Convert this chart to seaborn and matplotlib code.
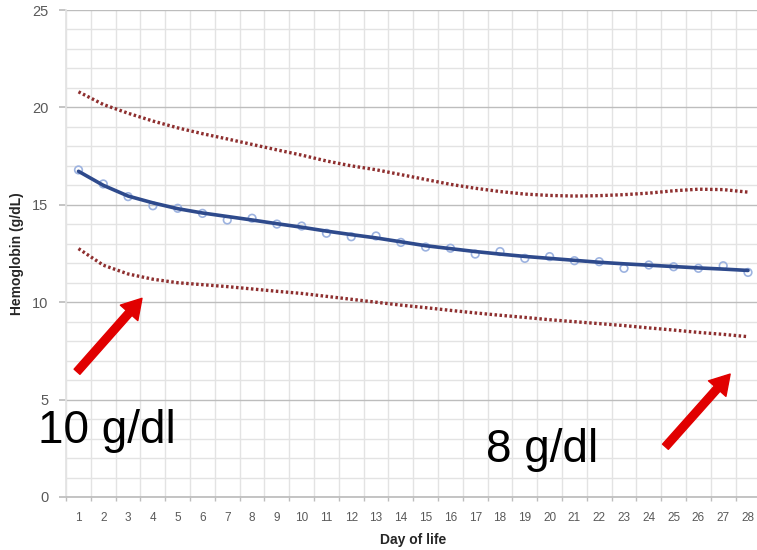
import numpy as np
import pandas as pd
import seaborn as sns
import matplotlib.pyplot as plt
from matplotlib.ticker import MultipleLocator, FixedLocator

# 데이터
days = list(range(1, 29))
hb_obs = [16.79, 16.07, 15.42, 14.95, 14.82, 14.56, 14.22, 14.31, 14.01, 13.91,
          13.54, 13.36, 13.40, 13.07, 12.83, 12.77, 12.47, 12.60, 12.25, 12.34,
          12.13, 12.08, 11.74, 11.91, 11.82, 11.74, 11.87, 11.53]
hb_trend = [16.72, 16.00, 15.45, 15.10, 14.80, 14.58, 14.40, 14.22, 14.03, 13.85,
            13.65, 13.47, 13.30, 13.10, 12.90, 12.75, 12.60, 12.47, 12.35, 12.25,
            12.15, 12.05, 11.97, 11.90, 11.83, 11.76, 11.70, 11.63]
hb_upper = [20.80, 20.15, 19.70, 19.30, 18.95, 18.65, 18.38, 18.10, 17.82, 17.55,
            17.25, 17.00, 16.80, 16.55, 16.30, 16.05, 15.85, 15.68, 15.55, 15.48,
            15.45, 15.47, 15.52, 15.60, 15.72, 15.80, 15.78, 15.65]
hb_lower = [12.75, 11.90, 11.45, 11.18, 11.00, 10.90, 10.80, 10.68, 10.56, 10.45,
            10.30, 10.15, 10.00, 9.85, 9.72, 9.58, 9.45, 9.33, 9.22, 9.10,
            9.00, 8.90, 8.80, 8.68, 8.57, 8.45, 8.35, 8.23]

df = pd.DataFrame({'day': days, 'obs': hb_obs, 'trend': hb_trend,
                   'upper': hb_upper, 'lower': hb_lower})

sns.set_theme(style="white")
plt.rcParams['font.family'] = ['Liberation Sans', 'DejaVu Sans']

fig = plt.figure(figsize=(7.57, 5.50), dpi=100)
ax = fig.add_axes([66.1 / 757, 1 - 497 / 550, (760.4 - 66.1) / 757, (497 - 10) / 550])

red_dot = '#8E2F2F'
for col in ['upper', 'lower']:
    sns.lineplot(data=df, x='day', y=col, ax=ax, color=red_dot, lw=2.4,
                 linestyle=(0, (0.75, 0.75)), zorder=3)
sns.scatterplot(data=df, x='day', y='obs', ax=ax, marker='o', s=30,
                facecolors='none', edgecolor='#9DB3E0', linewidth=1.2, zorder=4)
sns.lineplot(data=df, x='day', y='trend', ax=ax, color='#2E4A8C', lw=2.6, zorder=5)

ax.set_xlim(0.5, 28.5)
ax.set_ylim(0, 25)

# 축 눈금, 격자
ax.xaxis.set_major_locator(FixedLocator(days))
ax.xaxis.set_minor_locator(FixedLocator(np.arange(0.5, 29, 1)))
ax.yaxis.set_major_locator(MultipleLocator(5))
ax.yaxis.set_minor_locator(MultipleLocator(1))
ax.grid(which='major', axis='y', color='#BDBDBD', lw=1.0)
ax.grid(which='minor', axis='y', color='#E3E3E3', lw=1.0)
ax.grid(which='minor', axis='x', color='#E3E3E3', lw=1.0)
ax.tick_params(axis='x', which='major', length=0, labelsize=8.5, labelcolor='#595959', pad=11)
ax.tick_params(axis='x', which='minor', length=3, color='#BDBDBD', bottom=True)
ax.tick_params(axis='y', which='major', length=4.7, color='#BDBDBD', left=True,
               labelsize=10.5, labelcolor='#595959', pad=8)
ax.tick_params(axis='y', which='minor', length=0)
for s in ['top', 'right']:
    ax.spines[s].set_visible(False)
ax.spines['left'].set_color('#E3E3E3')
ax.spines['bottom'].set_color('#BDBDBD')

ax.set_xlabel('Day of life', fontsize=10, fontweight='bold', color='#262626', labelpad=6)
ax.set_ylabel('Hemoglobin (g/dL)', fontsize=10, fontweight='bold', color='#262626', labelpad=6)

# 빨간 화살표
arr = dict(arrowstyle='simple,head_width=1.2,head_length=1.0,tail_width=0.4',
           color='#E10000', mutation_scale=14, shrinkA=0, shrinkB=0)
ax.annotate('', xy=(3.56, 10.2), xytext=(0.94, 6.43), arrowprops=arr,
            annotation_clip=False, zorder=6)
ax.annotate('', xy=(27.28, 6.31), xytext=(24.67, 2.58), arrowprops=arr,
            annotation_clip=False, zorder=6)

fig.text(38 / 757, 1 - 443 / 550, '10 g/dl', fontsize=33, color='black', va='baseline')
fig.text(486 / 757, 1 - 462 / 550, '8 g/dl', fontsize=33, color='black', va='baseline')

fig.savefig('out.png', dpi=100)
